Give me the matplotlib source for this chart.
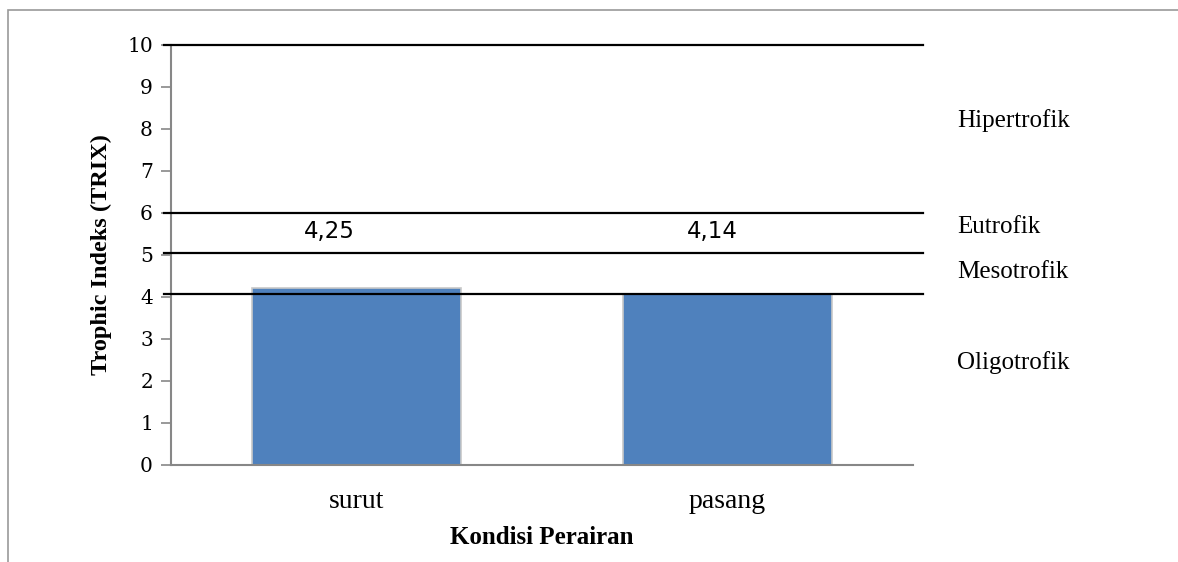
import matplotlib.pyplot as plt
from matplotlib.patches import Rectangle

# data
kondisi = ['surut', 'pasang']
trix = [4.21, 4.08]
trix_label = ['4,25', '4,14']
batas = [4.06, 5.05, 6.0, 10.0]
status = ['Hipertrofik', 'Eutrofik', 'Mesotrofik', 'Oligotrofik']
status_y = [8.21, 5.67, 4.6, 2.43]

serif = ['Liberation Serif', 'DejaVu Serif']
grey = '#878787'

fig = plt.figure(figsize=(11.78, 5.62), dpi=100)
ax = fig.add_axes([171 / 1178, 1 - 465 / 562, (913 - 171) / 1178, 420 / 562])

x = list(range(len(kondisi)))
ax.bar(x, trix, width=0.566, color='#4F81BD', edgecolor='#c8c8c8', linewidth=1.2, zorder=2)

for b in batas:
    ax.plot([-0.52, 1.527], [b, b], color='black', lw=1.6, clip_on=False, zorder=3)

for i, lab in enumerate(trix_label):
    ax.text(x[i] - 0.073 if i == 0 else x[i] - 0.04, 5.55, lab, ha='center', va='center',
            fontsize=16.5, family='DejaVu Sans')

for s, y in zip(status, status_y):
    ax.text(1.619, y, s, ha='left', va='center', fontsize=18, family=serif, clip_on=False)

ax.set_xlim(-0.5, 1.5)
ax.set_ylim(0, 10)
ax.set_yticks(range(0, 11))
ax.set_xticks(x)
ax.set_xticklabels(kondisi)
ax.tick_params(axis='y', length=7, color=grey, width=1.2, pad=6,
               labelsize=14.5, labelfontfamily='DejaVu Serif')
ax.tick_params(axis='x', length=0, pad=17, labelsize=20, labelfontfamily='Liberation Serif')
for sp in ['top', 'right']:
    ax.spines[sp].set_visible(False)
for sp in ['left', 'bottom']:
    ax.spines[sp].set_color(grey)
    ax.spines[sp].set_linewidth(1.5)

ax.set_ylabel('Trophic Indeks (TRIX)', family=serif, fontsize=17.5, fontweight='bold', labelpad=11)
ax.set_xlabel('Kondisi Perairan', family=serif, fontsize=18, fontweight='bold', labelpad=9)

# outer chart border (right and bottom fall outside the picture)
fig.patches.append(Rectangle((8 / 1178, -0.1), 1.2, 1.082, transform=fig.transFigure,
                             fill=False, edgecolor='#9a9a9a', lw=1.2))

fig.savefig('out.png', dpi=100)
